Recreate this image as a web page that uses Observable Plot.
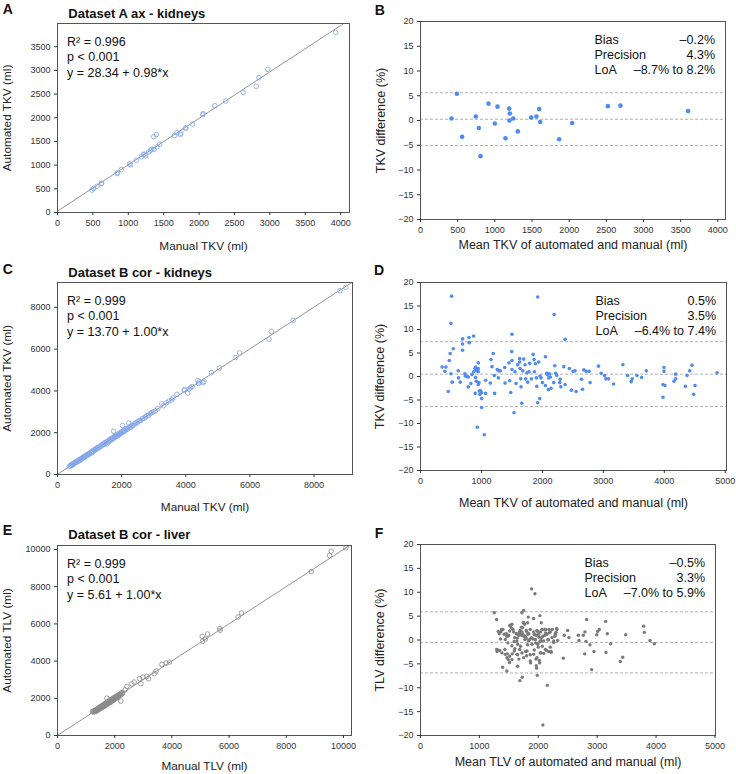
<!DOCTYPE html>
<html><head><meta charset="utf-8">
<script src="https://cdn.jsdelivr.net/npm/d3@7"></script>
<script src="https://cdn.jsdelivr.net/npm/@observablehq/plot@0.6"></script>
<style>
body{margin:0;background:#fff;font-family:"Liberation Sans",Arial,Helvetica,sans-serif;}
#root{position:relative;width:736px;height:774px;overflow:hidden;}
.panel{position:absolute;}
.t{position:absolute;font-weight:bold;white-space:nowrap;line-height:1;color:#111;}
</style></head><body><div id="root"></div>
<script>
// ---------- data ----------
// Panel A: manual vs automated TKV (dataset A ax)
const panelA = [[486,471],[509,506],[557,555],[618,611],[623,618],[840,822],[849,836],[901,907],[1019,1026],[1033,1005],[1113,1103],[1184,1174],[1217,1230],[1236,1230],[1245,1195],[1288,1279],[1316,1314],[1335,1335],[1363,1335],[1359,1602],[1396,1645],[1405,1385],[1443,1441],[1651,1623],[1689,1687],[1736,1645],[1741,1673],[1807,1778],[1816,1785],[1906,1869],[2052,2066],[2057,2087],[2222,2256],[2377,2354],[2623,2537],[2807,2664],[2844,2846],[2972,3022],[3929,3802]];
// Panel B: mean TKV vs difference (%)
const panelB = [[417,0.4],[489,5.4],[560,-3.3],[744,0.8],[785,-1.5],[807,-7.2],[915,3.4],[1000,-0.6],[1036,2.8],[1143,-3.6],[1193,2.4],[1202,1.4],[1197,0.0],[1247,0.4],[1309,-2.2],[1489,0.6],[1560,0.8],[1596,2.3],[1610,-0.3],[1865,-3.8],[2040,-0.5],[2520,2.9],[2690,3.0],[3600,1.9]];
// Panel C: manual vs automated TKV (dataset B cor)
const panelC = [[360,370],[395,410],[420,450],[440,430],[460,500],[480,470],[500,530],[520,510],[545,560],[560,590],[590,580],[610,640],[640,625],[660,690],[690,700],[710,680],[730,760],[750,745],[780,810],[800,790],[820,850],[845,835],[870,890],[890,920],[910,900],[935,960],[960,945],[980,1010],[1000,985],[1030,1050],[1060,1030],[1080,1110],[1110,1100],[1140,1180],[1160,1150],[1190,1220],[1210,1250],[1240,1230],[1270,1300],[1300,1290],[1330,1370],[1360,1350],[1390,1420],[1420,1450],[1440,1430],[1470,1520],[1500,1490],[1530,1570],[1542,1466],[1570,1560],[1600,1630],[1620,1660],[1640,1600],[1660,1700],[1690,1680],[1710,1750],[1740,1720],[1750,2072],[1770,1810],[1790,1780],[1810,1850],[1830,1820],[1850,1880],[1880,1900],[1900,1870],[1920,1960],[1950,1940],[1970,2010],[1990,1980],[2010,2050],[2030,2350],[2050,2030],[2070,2100],[2090,2120],[2110,2090],[2140,2170],[2160,2200],[2190,2170],[2220,2470],[2230,2250],[2260,2280],[2290,2260],[2320,2350],[2350,2330],[2400,2420],[2440,2470],[2480,2460],[2520,2550],[2560,2580],[2600,2590],[2650,2680],[2700,2690],[2740,2760],[2790,2820],[2840,2830],[2890,2920],[2940,2960],[2990,3010],[3050,3040],[3130,3160],[3250,3380],[3300,3290],[3400,3430],[3470,3510],[3560,3570],[3600,3660],[3730,3830],[3950,4030],[3970,4070],[4060,3900],[4100,4090],[4150,4150],[4200,4210],[4380,4500],[4400,4350],[4420,4430],[4540,4400],[4570,4460],[4800,4880],[5050,5100],[5560,5600],[5680,5820],[6600,6470],[6670,6850],[7350,7380],[8810,8800],[8990,8960]];
// Panel D: mean TKV vs difference (%)
const panelD = [[356,2.0],[417,2.0],[400,1.1],[455,-3.2],[472,3.4],[487,4.9],[499,0.6],[510,17.1],[499,11.3],[521,-1.2],[537,5.9],[619,1.2],[624,-0.3],[652,-1.2],[690,8.0],[690,6.9],[690,5.6],[729,0.6],[734,0.1],[762,0.0],[784,-0.1],[784,-2.2],[795,8.3],[800,7.2],[827,-1.5],[871,8.6],[844,0.4],[871,1.0],[893,1.7],[904,-0.2],[905,2.0],[898,-3.6],[915,-1.0],[915,1.3],[932,1.5],[948,2.9],[948,1.7],[948,1.0],[948,-1.7],[932,-10.8],[959,-1.3],[964,-3.1],[975,-3.8],[981,-3.0],[1003,-3.4],[1003,-4.7],[1003,-6.6],[1047,-12.4],[1069,-0.8],[1069,-3.6],[1145,-1.4],[1156,3.6],[1172,2.1],[1194,4.9],[1210,0.2],[1216,-3.6],[1260,1.5],[1277,-0.3],[1282,1.2],[1309,1.2],[1381,1.9],[1387,-1.4],[1452,2.9],[1463,-0.9],[1480,-3.4],[1496,5.3],[1501,9.0],[1501,3.4],[1501,1.5],[1534,-7.7],[1551,1.0],[1567,-1.5],[1594,2.5],[1627,3.8],[1627,3.1],[1633,1.7],[1644,-0.5],[1649,-2.2],[1661,-5.7],[1676,1.2],[1693,3.7],[1715,2.5],[1726,-0.5],[1748,0.8],[1759,-1.2],[1781,1.0],[1792,2.8],[1819,-0.5],[1847,4.7],[1863,3.6],[1868,1.0],[1885,2.7],[1901,-0.3],[1907,-2.1],[1923,-5.6],[1923,16.9],[1940,3.1],[1956,-4.7],[1961,0.1],[1978,-0.3],[2000,-1.3],[2049,4.2],[2049,-1.9],[2071,0.7],[2083,0.4],[2098,-2.8],[2104,-0.3],[2115,0.6],[2131,-0.1],[2142,-2.5],[2186,-1.3],[2192,13.2],[2203,2.3],[2219,0.7],[2235,0.2],[2285,-1.3],[2290,-0.6],[2302,-2.2],[2351,2.1],[2372,7.9],[2372,-1.7],[2443,1.7],[2477,-2.9],[2504,1.1],[2536,1.2],[2553,-3.2],[2641,-0.6],[2658,-2.7],[2680,1.4],[2718,1.1],[2767,1.1],[2783,-1.3],[2920,2.2],[2964,0.7],[3019,0.2],[3041,-0.5],[3084,-0.5],[3167,-1.6],[3320,2.5],[3397,0.2],[3457,-1.1],[3474,-0.5],[3550,0.2],[3627,-0.2],[3704,1.2],[3995,1.9],[3995,1.1],[3978,-1.7],[4011,-1.9],[3978,-4.4],[4186,0.5],[4159,-1.0],[4186,-0.5],[4345,-2.1],[4373,0.2],[4416,1.2],[4454,2.4],[4482,-3.8],[4504,-1.9],[4866,0.8]];
// Panel E: manual vs automated TLV (dataset B cor)
const panelE = [[1220,1290],[1245,1300],[1262,1258],[1288,1335],[1297,1281],[1318,1362],[1336,1322],[1352,1298],[1363,1404],[1377,1369],[1392,1418],[1404,1352],[1411,1446],[1428,1398],[1437,1472],[1452,1431],[1459,1508],[1468,1447],[1483,1492],[1491,1433],[1502,1545],[1512,1498],[1523,1566],[1527,1468],[1541,1532],[1553,1592],[1562,1538],[1569,1603],[1583,1522],[1591,1625],[1603,1578],[1612,1663],[1618,1601],[1633,1641],[1644,1579],[1652,1694],[1658,1647],[1671,1712],[1683,1618],[1692,1704],[1701,1745],[1713,1677],[1719,1762],[1725,2010],[1733,1698],[1742,1794],[1751,1728],[1763,1771],[1772,1702],[1779,1832],[1791,1777],[1803,1846],[1808,1758],[1822,1853],[1834,1797],[1838,1905],[1852,1836],[1861,1874],[1873,1798],[1881,1925],[1893,1878],[1899,1952],[1912,1857],[1924,1955],[1931,1918],[1943,1984],[1952,1897],[1963,2004],[1969,1958],[1983,2027],[1992,1948],[2004,2056],[2011,1997],[2022,2043],[2033,1978],[2042,2095],[2053,2037],[2061,2084],[2073,2018],[2084,2131],[2098,2087],[2112,2143],[2124,2077],[2138,2186],[2152,2138],[2168,2203],[2187,2158],[2203,2254],[2216,1848],[2221,2207],[2244,2283],[2262,2248],[2281,2314],[2367,2461],[2426,2639],[2601,2783],[2682,2872],[2868,3051],[2915,2783],[2986,3141],[3126,3177],[3183,3051],[3382,3321],[3452,3464],[3651,3823],[3801,3895],[3917,3949],[5058,5331],[5070,5062],[5175,5188],[5245,5457],[5676,5744],[5688,5654],[6317,6372],[6434,6588],[8870,8813],[9511,9675],[9569,9908],[10082,10088]];
// Panel F: mean TLV vs difference (%)
const panelF = [[1252,5.7],[1292,4.3],[1297,-2.0],[1300,-2.4],[1298,-2.0],[1320,1.8],[1338,1.3],[1344,-2.2],[1360,0.2],[1366,1.7],[1377,2.2],[1383,-2.7],[1394,-5.7],[1400,2.2],[1423,1.2],[1434,-2.0],[1440,0.1],[1440,-3.0],[1456,1.3],[1467,-6.5],[1468,0.8],[1468,-3.7],[1473,-2.9],[1479,0.8],[1484,-0.6],[1490,-4.1],[1497,1.0],[1513,-4.7],[1514,1.9],[1514,-3.4],[1518,3.1],[1525,2.9],[1547,2.5],[1552,-1.2],[1553,3.3],[1553,-4.1],[1558,-2.9],[1570,2.2],[1582,1.7],[1592,-0.3],[1593,-2.3],[1599,0.5],[1603,-1.8],[1627,1.3],[1632,1.3],[1638,-0.2],[1638,-3.0],[1643,0.4],[1649,-3.1],[1649,-5.5],[1650,-0.9],[1667,1.0],[1671,-4.0],[1684,1.5],[1684,-2.0],[1688,1.8],[1688,-8.5],[1695,2.0],[1700,-1.3],[1711,1.0],[1712,2.7],[1722,5.7],[1723,1.7],[1723,-2.7],[1728,-7.8],[1734,2.6],[1740,1.2],[1745,3.6],[1751,6.2],[1752,3.6],[1752,-3.7],[1756,0.8],[1769,3.3],[1773,0.1],[1780,0.8],[1785,-2.4],[1796,2.0],[1797,0.3],[1802,-3.3],[1808,1.7],[1808,-2.3],[1819,3.6],[1819,-1.0],[1825,1.2],[1830,4.8],[1837,-0.2],[1841,1.3],[1854,0.1],[1864,-3.1],[1865,2.2],[1865,-4.4],[1870,-4.8],[1882,0.5],[1887,10.7],[1893,-0.9],[1909,0.2],[1921,4.5],[1922,1.7],[1922,-3.0],[1932,-2.1],[1933,1.2],[1943,9.7],[1943,1.1],[1950,0.1],[1955,-0.6],[1960,-4.0],[1966,-5.4],[1967,1.0],[1972,-5.9],[1978,2.0],[1978,-3.7],[1983,-7.4],[1989,1.8],[1990,-0.9],[2000,-1.5],[2007,1.2],[2011,0.6],[2017,-4.3],[2024,-0.4],[2024,-4.8],[2028,5.1],[2034,-2.7],[2035,1.7],[2045,-0.1],[2047,-2.7],[2051,3.6],[2052,0.5],[2062,2.2],[2068,-1.3],[2079,-17.8],[2080,0.8],[2091,-2.8],[2092,-0.2],[2109,2.2],[2113,1.0],[2120,-2.0],[2125,2.2],[2126,1.5],[2142,-2.2],[2148,1.2],[2153,-9.5],[2165,0.1],[2170,0.0],[2177,-2.4],[2182,2.2],[2187,1.5],[2204,-1.5],[2205,1.7],[2216,-2.4],[2221,-2.6],[2233,0.5],[2238,2.2],[2261,-0.5],[2262,-0.2],[2283,0.8],[2290,1.2],[2300,1.6],[2311,2.4],[2318,2.2],[2329,-0.1],[2425,-3.8],[2442,1.0],[2499,2.0],[2521,0.5],[2680,1.0],[2691,-0.1],[2765,1.0],[2788,-2.9],[2793,1.7],[2810,-0.3],[2822,4.3],[2878,-1.0],[2907,-6.2],[2946,-2.4],[2992,1.1],[3009,1.8],[3037,2.2],[3145,3.9],[3150,-2.6],[3173,1.3],[3230,-0.8],[3394,-4.5],[3434,-3.6],[3485,1.1],[3790,2.9],[3802,1.6],[3898,-0.1],[3972,-0.8]];

// reference lines (bias / limits as drawn)
const refB = [5.6, 0.25, -5.05];
const refD = [7.4, 0.5, -6.4];
const refF = [5.9, -0.5, -6.9];

// regression equations
const regA = {intercept: 28.34, slope: 0.98};
const regC = {intercept: 13.70, slope: 1.00};
const regE = {intercept: 5.61, slope: 1.00};

// texts
const titles = ["Dataset A ax - kidneys", "Dataset B cor - kidneys", "Dataset B cor - liver"];
const letters = ["A","B","C","D","E","F"];
const annA = "R\u00b2 = 0.996\np < 0.001\ny = 28.34 + 0.98*x";
const annC = "R\u00b2 = 0.999\np < 0.001\ny = 13.70 + 1.00*x";
const annE = "R\u00b2 = 0.999\np < 0.001\ny = 5.61 + 1.00*x";
const statLabels = "Bias\nPrecision\nLoA";
const statB = "\u20130.2%\n4.3%\n\u20138.7% to 8.2%";
const statD = "0.5%\n3.5%\n\u20136.4% to 7.4%";
const statF = "\u20130.5%\n3.3%\n\u20137.0% to 5.9%";

// ticks
const ticksA = [0,500,1000,1500,2000,2500,3000,3500,4000];
const ticksAy = [0,500,1000,1500,2000,2500,3000,3500];
const ticksC = [0,2000,4000,6000,8000];
const ticksE = [0,2000,4000,6000,8000,10000];
const ticksDiff = [-20,-15,-10,-5,0,5,10,15,20];
const ticksB = [0,500,1000,1500,2000,2500,3000,3500,4000];
const ticksDF = [0,1000,2000,3000,4000,5000];

// ---------- drawing ----------
const FONT = '"Liberation Sans", Arial, Helvetica, sans-serif';
const fmt = d => d < 0 ? "\u2212" + Math.abs(d) : String(d);
const BLUE = "#4f8bf0";
const BLUE_OPEN = "#7fa5e8";
const GRAY_OPEN = "#8c8c8c";
const GRAY = "#7a7a7a";

function makePanel(cfg, marks) {
  const [mt, mr, mb, ml] = cfg.margins;
  return Plot.plot({
    width: 368, height: 258,
    marginTop: mt, marginRight: mr, marginBottom: mb, marginLeft: ml,
    x: {domain: cfg.xDomain},
    y: {domain: cfg.yDomain},
    style: {fontFamily: FONT, color: "#333", background: "transparent", overflow: "visible"},
    marks: [
      ...marks,
      Plot.frame({stroke: "#555", strokeWidth: 1}),
      Plot.axisX({ticks: cfg.xTicks, tickFormat: fmt, tickSize: 3, tickPadding: 4, fontSize: 9, label: null}),
      Plot.axisY({ticks: cfg.yTicks, tickFormat: fmt, tickSize: 3, tickPadding: 4, fontSize: 9, label: null}),
      Plot.text([cfg.xLabel], {text: d => d, frameAnchor: "bottom", dy: cfg.xLabelDy, fontSize: cfg.labelSize, lineAnchor: "middle", textAnchor: "middle", fill: "#222"}),
      Plot.text([cfg.yLabel], {text: d => d, frameAnchor: "left", dx: cfg.yLabelDx, rotate: -90, fontSize: cfg.labelSize, lineAnchor: "middle", textAnchor: "middle", fill: "#222"})
    ]
  });
}

function scatterMarks(data, reg, xMax, stroke, ann) {
  const line = [0, xMax].map(x => ({x, y: reg.intercept + reg.slope * x}));
  return [
    Plot.line(line, {x: "x", y: "y", stroke: "#8a8a8a", strokeWidth: 0.9, clip: true}),
    Plot.dot(data, {x: d => d[0], y: d => d[1], r: 2.3, stroke, fill: "none", strokeWidth: 0.8}),
    Plot.text([ann], {text: d => d, frameAnchor: "top-left", dx: 9.5, dy: 11.7, lineAnchor: "top", lineHeight: 1.22, fontSize: 12.5, textAnchor: "start", fill: "#111"})
  ];
}

function baMarks(data, refs, fill, r, stat) {
  return [
    Plot.ruleY(refs, {stroke: "#a8a8a8", strokeWidth: 0.9, strokeDasharray: "3,2"}),
    Plot.dot(data, {x: d => d[0], y: d => d[1], r, fill, stroke: "none"}),
    Plot.text([statLabels], {text: d => d, frameAnchor: "top-right", dx: -131, dy: 11.2, lineAnchor: "top", lineHeight: 1.22, fontSize: 12.5, textAnchor: "start", fill: "#111"}),
    Plot.text([stat], {text: d => d, frameAnchor: "top-right", dx: -10.5, dy: 11.2, lineAnchor: "top", lineHeight: 1.22, fontSize: 12.5, textAnchor: "end", fill: "#111"})
  ];
}

const root = document.getElementById("root");
function place(node, left, top) {
  node.classList.add("panel");
  node.style.left = left + "px";
  node.style.top = top + "px";
  root.appendChild(node);
}

// A
place(makePanel({margins: [23, 19, 46, 57], xDomain: [0, 4125], yDomain: [0, 3990], xTicks: ticksA, yTicks: ticksAy,
  xLabel: "Manual TKV (ml)", yLabel: "Automated TKV (ml)", xLabelDy: 33.3, yLabelDx: -50, labelSize: 11.8},
  scatterMarks(panelA, regA, 4125, BLUE_OPEN, annA)), 0, 0);
// B
place(makePanel({margins: [21, 11, 39, 52], xDomain: [0, 4103], yDomain: [-20, 20], xTicks: ticksB, yTicks: ticksDiff,
  xLabel: "Mean TKV of automated and manual (ml)", yLabel: "TKV difference (%)", xLabelDy: 25.3, yLabelDx: -40, labelSize: 12.5},
  baMarks(panelB, refB, BLUE, 2.3, statB)), 368, 0);
// C
place(makePanel({margins: [24, 16, 42, 57], xDomain: [0, 9200], yDomain: [0, 9190], xTicks: ticksC, yTicks: ticksC,
  xLabel: "Manual TKV (ml)", yLabel: "Automated TKV (ml)", xLabelDy: 33, yLabelDx: -50, labelSize: 11.8},
  scatterMarks(panelC, regC, 9200, BLUE_OPEN, annC)), 0, 258);
// D
place(makePanel({margins: [24, 10, 46, 52], xDomain: [0, 5020], yDomain: [-20, 20], xTicks: ticksDF, yTicks: ticksDiff,
  xLabel: "Mean TKV of automated and manual (ml)", yLabel: "TKV difference (%)", xLabelDy: 32, yLabelDx: -41, labelSize: 12.5},
  baMarks(panelD, refD, BLUE, 1.8, statD)), 368, 258);
// E
place(makePanel({margins: [29, 17, 39, 57], xDomain: [0, 10280], yDomain: [0, 10215], xTicks: ticksE, yTicks: ticksE,
  xLabel: "Manual TLV (ml)", yLabel: "Automated TLV (ml)", xLabelDy: 30.6, yLabelDx: -50, labelSize: 11.8},
  scatterMarks(panelE, regE, 10280, GRAY_OPEN, annE)), 0, 516);
// F
place(makePanel({margins: [28, 21, 39, 52], xDomain: [0, 5010], yDomain: [-20, 20], xTicks: ticksDF, yTicks: ticksDiff,
  xLabel: "Mean TLV of automated and manual (ml)", yLabel: "TLV difference (%)", xLabelDy: 26.6, yLabelDx: -41, labelSize: 12.5},
  baMarks(panelF, refF, GRAY, 1.7, statF)), 368, 516);

// titles and panel letters (HTML text)
function label(text, left, baseline, size) {
  const d = document.createElement("div");
  d.className = "t";
  d.textContent = text;
  d.style.fontSize = size + "px";
  d.style.left = left + "px";
  d.style.top = (baseline - 0.8465 * size) + "px";
  root.appendChild(d);
}
label(titles[0], 68.3, 18.3, 13);
label(titles[1], 68.3, 277.3, 13);
label(titles[2], 68.3, 538.7, 13);
label(letters[0], 2.7, 14, 14);
label(letters[1], 374.7, 15, 14);
label(letters[2], 2.7, 274, 14);
label(letters[3], 374, 274.7, 14);
label(letters[4], 2.7, 535.3, 14);
label(letters[5], 374.7, 538, 14);
</script></body></html>
